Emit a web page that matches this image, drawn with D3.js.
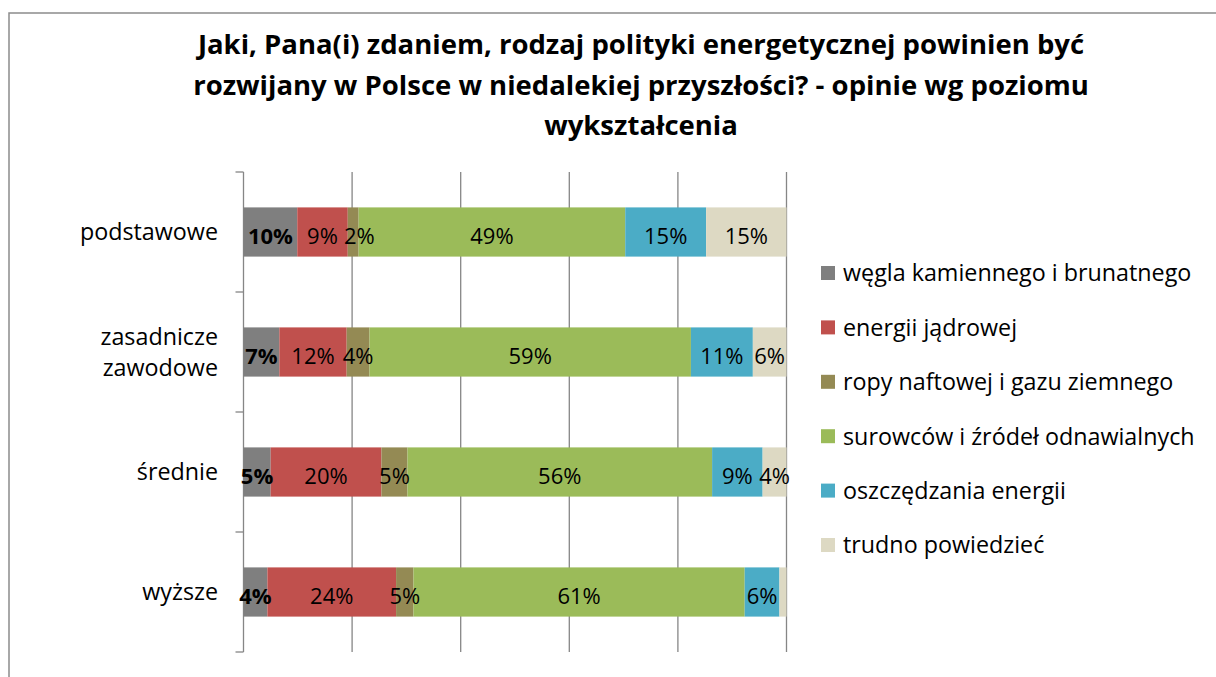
<!DOCTYPE html>
<html>
<head>
<meta charset="utf-8">
<script src="https://cdn.jsdelivr.net/npm/d3@7"></script>
<style>
  body { margin: 0; background: #fff; }
  svg { display: block; font-family: "Open Sans", sans-serif; }
</style>
</head>
<body>
<div id="chart"></div>
<script>
const title = ["Jaki, Pana(i) zdaniem, rodzaj polityki energetycznej powinien być",
"rozwijany w Polsce w niedalekiej przyszłości? - opinie wg poziomu",
"wykształcenia"]

const categories = ["podstawowe", "zasadnicze\nzawodowe", "średnie", "wyższe"]
const seriesNames = ["węgla kamiennego i brunatnego", "energii jądrowej", "ropy naftowej i gazu ziemnego",
"surowców i źródeł odnawialnych", "oszczędzania energii", "trudno powiedzieć"]
const colors = ["#7f7f7f", "#c0504d", "#948a54", "#9bbb59", "#4bacc6", "#ddd9c3"]

// values (percent of the row)
const wegla = [9.9, 6.6, 5.0, 4.4]
const jadrowa = [9.3, 12.4, 20.4, 23.7]
const ropa = [2.0, 4.2, 4.8, 3.2]
const odnawialne = [49.1, 59.2, 56.1, 61.0]
const oszczedzanie = [14.9, 11.4, 9.3, 6.4]
const trudno = [14.8, 6.2, 4.4, 1.3]

// data labels as printed on the chart (one row per category)
const dataLabels = [
  ["10%", "9%", "2%", "49%", "15%", "15%"],
  ["7%", "12%", "4%", "59%", "11%", "6%"],
  ["5%", "20%", "5%", "56%", "9%", "4%"],
  ["4%", "24%", "5%", "61%", "6%", ""]
]

const xTicks = [0, 20, 40, 60, 80, 100]

const allSeries = [wegla, jadrowa, ropa, odnawialne, oszczedzanie, trudno]

const width = 1216, height = 677
const margin = ({top: 172, right: 429, bottom: 25, left: 243.5})

// build rows for d3.stack
const rows = categories.map((c, i) => {
  let r = {cat: c, idx: i}
  seriesNames.forEach((s, j) => r[s] = allSeries[j][i])
  return r
})

const stacked = d3.stack().keys(seriesNames)(rows)

const svg = d3.select("#chart")
  .append("svg")
  .attr("width", width)
  .attr("height", height)

// chart frame (its right and bottom edges fall off the picture)
svg.append("rect")
  .attr("x", 9).attr("y", 13)
  .attr("width", width).attr("height", height)
  .attr("fill", "none")
  .attr("stroke", "#8c8c8c")
  .attr("stroke-width", 1.5)

const x = d3.scaleLinear()
  .domain([0, 100])
  .range([margin.left, width - margin.right - 0.5])

const y = d3.scaleBand()
  .domain(categories)
  .range([margin.top, height - margin.bottom])
  .paddingInner(0.59)
  .paddingOuter(0.295)

// title
svg.append("g")
  .selectAll("text")
  .data(title)
  .join("text")
  .attr("x", 641)
  .attr("y", (d, i) => 54 + i * 40.5)
  .attr("text-anchor", "middle")
  .attr("font-size", 27.5)
  .attr("font-weight", "bold")
  .attr("fill", "#000")
  .text(d => d)

// vertical gridlines
svg.append("g")
  .selectAll("line")
  .data(xTicks.slice(1))
  .join("line")
  .attr("x1", d => x(d)).attr("x2", d => x(d))
  .attr("y1", y.range()[0]).attr("y2", y.range()[1])
  .attr("stroke", "#868686")
  .attr("stroke-width", 1.3)

// category axis with tick marks between the categories
const bounds = d3.range(categories.length + 1).map(i => y.range()[0] + i * y.step())
const axis = svg.append("g")
axis.append("line")
  .attr("x1", x(0)).attr("x2", x(0))
  .attr("y1", y.range()[0]).attr("y2", y.range()[1])
  .attr("stroke", "#868686").attr("stroke-width", 1.3)
axis.selectAll(".tick")
  .data(bounds)
  .join("line")
  .attr("class", "tick")
  .attr("x1", x(0) - 8).attr("x2", x(0))
  .attr("y1", d => d).attr("y2", d => d)
  .attr("stroke", "#868686").attr("stroke-width", 1.3)

// category labels, right aligned, multi-line where needed
let catText = svg.append("g")
  .selectAll("text")
  .data(categories)
  .join("text")
  .attr("text-anchor", "end")
  .attr("font-size", 23.3)
  .attr("fill", "#000")
catText.each(function (d) {
  const lines = d.split("\n")
  const cy = y(d) + y.bandwidth() / 2
  d3.select(this).selectAll("tspan")
    .data(lines)
    .join("tspan")
    .attr("x", 218)
    .attr("y", (l, i) => cy + (i - (lines.length - 1) / 2) * 31)
    .attr("dy", "0.36em")
    .text(l => l)
})

// stacked bars
let layer = svg.append("g")
  .selectAll("g")
  .data(stacked)
  .join("g")
  .attr("fill", (d, i) => colors[i])

layer.selectAll("rect")
  .data(d => d)
  .join("rect")
  .attr("x", d => x(d[0]))
  .attr("width", d => x(d[1]) - x(d[0]))
  .attr("y", d => y(d.data.cat))
  .attr("height", y.bandwidth())

// data labels centred in each segment, first series in bold
let labels = svg.append("g")
  .selectAll("g")
  .data(stacked)
  .join("g")
  .attr("font-weight", (d, i) => i == 0 ? "bold" : "normal")

labels.selectAll("text")
  .data((d, j) => d.map(p => ({p: p, j: j})))
  .join("text")
  .attr("x", d => x((d.p[0] + d.p[1]) / 2))
  .attr("y", d => y(d.p.data.cat) + y.bandwidth() / 2)
  .attr("dy", "0.55em")
  .attr("text-anchor", "middle")
  .attr("font-size", 22)
  .attr("fill", "#000")
  .text(d => dataLabels[d.p.data.idx][d.j])

// push a label to the right when it runs into the one before it in the same bar
categories.forEach((c, i) => {
  let lastRight = -Infinity
  labels.selectAll("text")
    .filter(d => d.p.data.idx == i)
    .each(function () {
      const b = this.getBBox()
      if (b.width == 0) return
      if (b.x < lastRight + 6) {
        const shift = lastRight + 6 - b.x
        d3.select(this).attr("x", +d3.select(this).attr("x") + shift)
        lastRight = b.x + b.width + shift
      } else {
        lastRight = b.x + b.width
      }
    })
})

// legend
const ly = d3.scalePoint().domain(seriesNames).range([273, 545])
let leg = svg.append("g")
  .selectAll("g")
  .data(seriesNames)
  .join("g")
  .attr("transform", d => `translate(821, ${ly(d)})`)

leg.append("rect")
  .attr("x", 0).attr("y", -7)
  .attr("width", 14).attr("height", 14)
  .attr("fill", (d, i) => colors[i])

leg.append("text")
  .attr("x", 22)
  .attr("dy", "0.36em")
  .attr("font-size", 23.3)
  .attr("fill", "#000")
  .text(d => d)
</script>
</body>
</html>
